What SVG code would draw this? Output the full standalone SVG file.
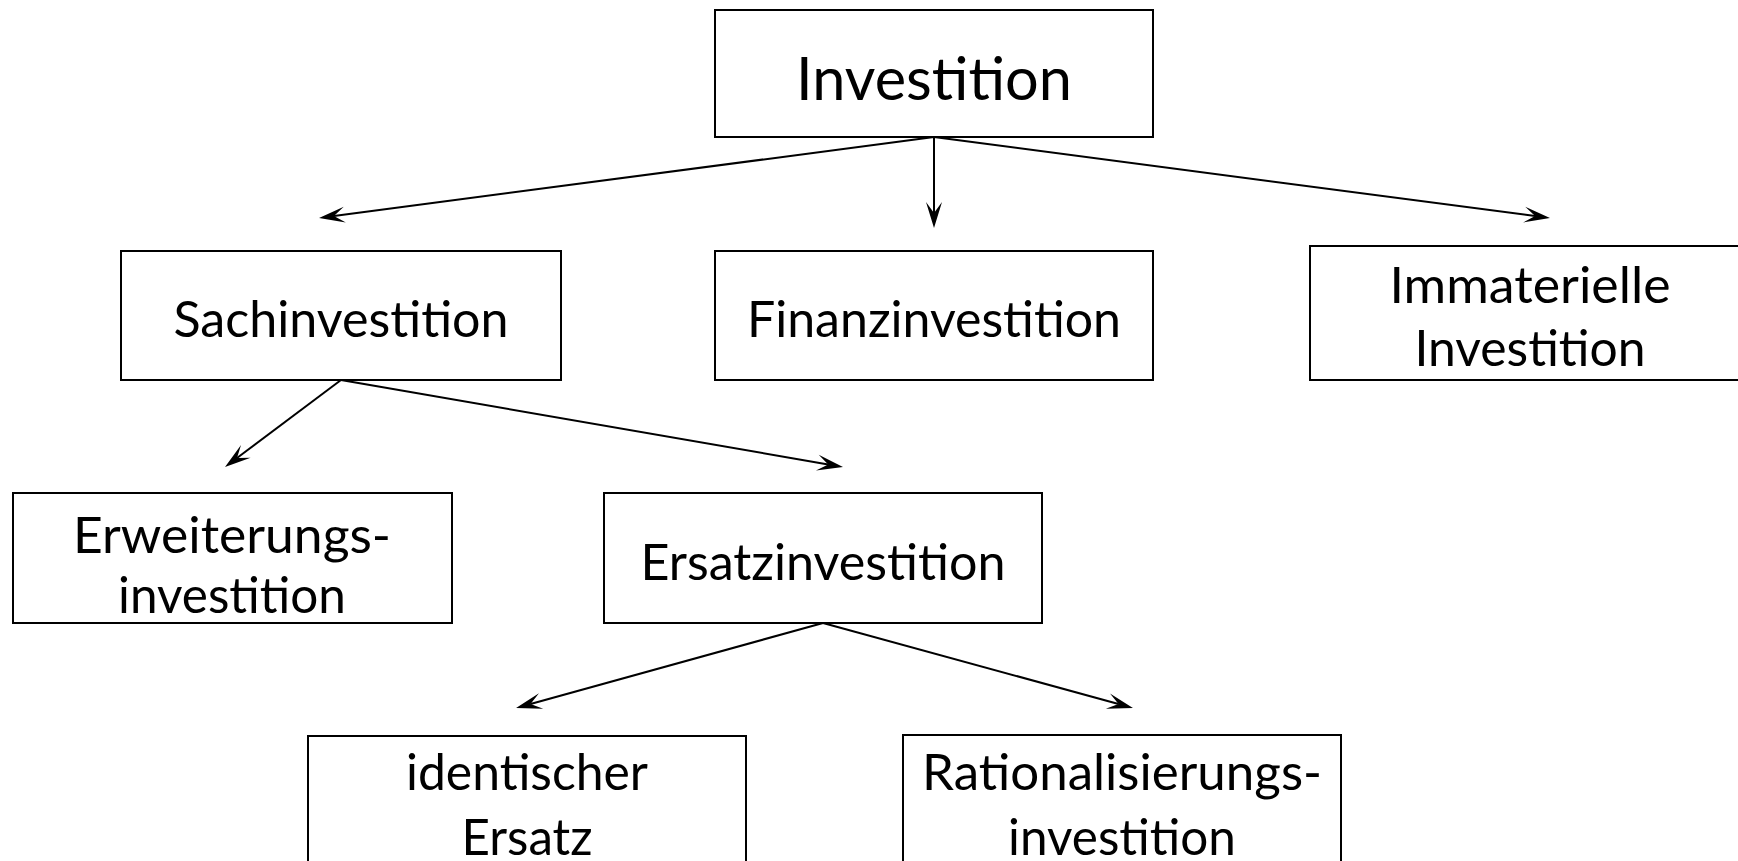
<svg xmlns="http://www.w3.org/2000/svg" width="1738" height="861" viewBox="0 0 1738 861">
<style>
.box{fill:#fff;stroke:#000;stroke-width:2}
.t{font-family:Lato,"Open Sans","Liberation Sans",sans-serif;font-size:50px;fill:#000;text-anchor:middle}
.big{font-size:60px}
.c{stroke:#000;stroke-width:2;fill:none;marker-end:url(#ah)}
</style>
<defs>
<marker id="ah" markerUnits="userSpaceOnUse" markerWidth="30" markerHeight="20" viewBox="-12 -10 30 20" refX="0" refY="0" orient="auto" overflow="visible">
<path d="M15,0 L-11,-8 L0,0 L-11,8 Z" fill="#000"/>
</marker>
</defs>
<rect width="1738" height="861" fill="#fff"/>
<g id="connectors">
<line class="c" x1="934" y1="137" x2="333.9" y2="216"/>
<line class="c" x1="934" y1="137" x2="934" y2="213"/>
<line class="c" x1="934" y1="137" x2="1535.1" y2="216"/>
<line class="c" x1="341" y1="380" x2="237" y2="458"/>
<line class="c" x1="341" y1="380" x2="828.2" y2="464.4"/>
<line class="c" x1="823" y1="623" x2="530.5" y2="704"/>
<line class="c" x1="823" y1="623" x2="1118.5" y2="704"/>
</g>
<g id="investition">
<rect class="box" x="715" y="10" width="438" height="127"/>
<text class="t big" x="934" y="100" textLength="276" lengthAdjust="spacingAndGlyphs">Investition</text>
</g>
<g id="sachinvestition">
<rect class="box" x="121" y="251" width="440" height="129"/>
<text class="t" x="341" y="337" textLength="335" lengthAdjust="spacingAndGlyphs">Sachinvestition</text>
</g>
<g id="finanzinvestition">
<rect class="box" x="715" y="251" width="438" height="129"/>
<text class="t" x="934" y="337" textLength="374" lengthAdjust="spacingAndGlyphs">Finanzinvestition</text>
</g>
<g id="immaterielle">
<rect class="box" x="1310" y="246" width="440" height="134"/>
<text class="t" x="1530" y="303" textLength="281" lengthAdjust="spacingAndGlyphs">Immaterielle</text>
<text class="t" x="1530" y="366" textLength="231" lengthAdjust="spacingAndGlyphs">Investition</text>
</g>
<g id="erweiterung">
<rect class="box" x="13" y="493" width="439" height="130"/>
<text class="t" x="232" y="553" textLength="318" lengthAdjust="spacingAndGlyphs">Erweiterungs-</text>
<text class="t" x="232" y="613" textLength="228" lengthAdjust="spacingAndGlyphs">investition</text>
</g>
<g id="ersatzinvestition">
<rect class="box" x="604" y="493" width="438" height="130"/>
<text class="t" x="823" y="580" textLength="365" lengthAdjust="spacingAndGlyphs">Ersatzinvestition</text>
</g>
<g id="identischer">
<rect class="box" x="308" y="736" width="438" height="140"/>
<text class="t" x="527" y="790" textLength="242" lengthAdjust="spacingAndGlyphs">identischer</text>
<text class="t" x="527" y="855" textLength="131" lengthAdjust="spacingAndGlyphs">Ersatz</text>
</g>
<g id="rationalisierung">
<rect class="box" x="903" y="735" width="438" height="140"/>
<text class="t" x="1122" y="790" textLength="400" lengthAdjust="spacingAndGlyphs">Rationalisierungs-</text>
<text class="t" x="1122" y="855" textLength="228" lengthAdjust="spacingAndGlyphs">investition</text>
</g>
</svg>
